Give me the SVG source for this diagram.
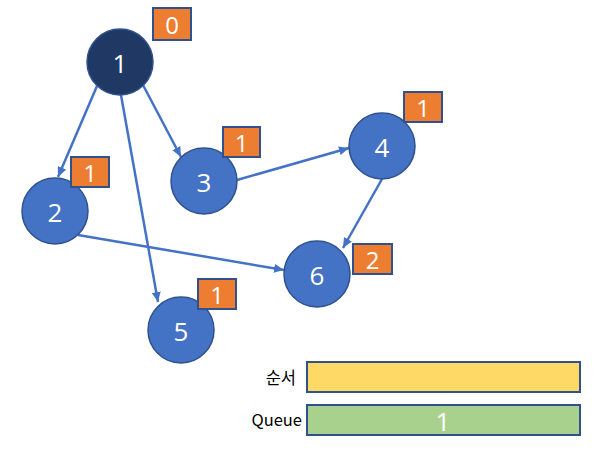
<svg xmlns="http://www.w3.org/2000/svg" width="605" height="458" viewBox="0 0 605 458">
  <style>
    .node { fill: #4472C4; stroke: #2F528F; stroke-width: 1.5; }
    .root { fill: #203864; stroke: #2F528F; stroke-width: 1.5; }
    .label { font-family: "Open Sans", "Noto Sans", "Liberation Sans", sans-serif; font-size: 26px; fill: #FFFFFF; text-anchor: middle; dominant-baseline: central; }
    .badge { fill: #ED7D31; stroke: #2F528F; stroke-width: 2; }
    .blabel { font-family: "Open Sans", "Noto Sans", "Liberation Sans", sans-serif; font-size: 24px; fill: #FFFFFF; text-anchor: middle; dominant-baseline: central; }
    .edge { stroke: #4472C4; stroke-width: 2.5; fill: none; marker-end: url(#arrow); }
    .side { font-family: "Noto Sans CJK KR", "Noto Sans", sans-serif; font-size: 16.5px; fill: #000000; text-anchor: end; dominant-baseline: central; }
  </style>
  <defs>
    <marker id="arrow" markerUnits="userSpaceOnUse" markerWidth="11" markerHeight="9" refX="10" refY="4.5" orient="auto">
      <path d="M0,0 L10,4.5 L0,9 Z" fill="#4472C4"/>
    </marker>
  </defs>

  <g id="edges">
    <line class="edge" x1="97" y1="86" x2="58" y2="177"/>
    <line class="edge" x1="143" y1="85" x2="181" y2="157"/>
    <line class="edge" x1="121" y1="95" x2="158" y2="302"/>
    <line class="edge" x1="78" y1="235" x2="284" y2="270"/>
    <line class="edge" x1="237" y1="180" x2="349" y2="148"/>
    <line class="edge" x1="382" y1="179" x2="343" y2="248"/>
  </g>

  <g id="node1">
    <circle class="root" cx="120" cy="62" r="33"/>
    <text class="label" x="120" y="63">1</text>
    <rect class="badge" x="153" y="8" width="38" height="32"/>
    <text class="blabel" x="172" y="24">0</text>
  </g>
  <g id="node2">
    <circle class="node" cx="55" cy="211" r="33"/>
    <text class="label" x="55" y="212">2</text>
    <rect class="badge" x="71" y="157" width="38" height="30"/>
    <text class="blabel" x="90" y="172">1</text>
  </g>
  <g id="node3">
    <circle class="node" cx="204" cy="181" r="33"/>
    <text class="label" x="204" y="182">3</text>
    <rect class="badge" x="223" y="127" width="37" height="30"/>
    <text class="blabel" x="241.5" y="142">1</text>
  </g>
  <g id="node4">
    <circle class="node" cx="382" cy="146" r="33"/>
    <text class="label" x="382" y="147">4</text>
    <rect class="badge" x="404" y="92" width="38" height="30"/>
    <text class="blabel" x="423" y="107">1</text>
  </g>
  <g id="node5">
    <circle class="node" cx="181" cy="330" r="33"/>
    <text class="label" x="181" y="331">5</text>
    <rect class="badge" x="198" y="279" width="38" height="30"/>
    <text class="blabel" x="217" y="294">1</text>
  </g>
  <g id="node6">
    <circle class="node" cx="317" cy="274" r="33"/>
    <text class="label" x="317" y="275">6</text>
    <rect class="badge" x="353" y="244" width="39" height="30"/>
    <text class="blabel" x="372.5" y="259">2</text>
  </g>

  <g id="order">
    <text class="side" x="296" y="377">순서</text>
    <rect x="307" y="362" width="273" height="30" fill="#FFD966" stroke="#2F528F" stroke-width="2"/>
  </g>
  <g id="queue">
    <text class="side" x="302" y="419">Queue</text>
    <rect x="307" y="405" width="273" height="30" fill="#A9D18E" stroke="#2F528F" stroke-width="2"/>
    <text class="label" x="443" y="421">1</text>
  </g>
</svg>
